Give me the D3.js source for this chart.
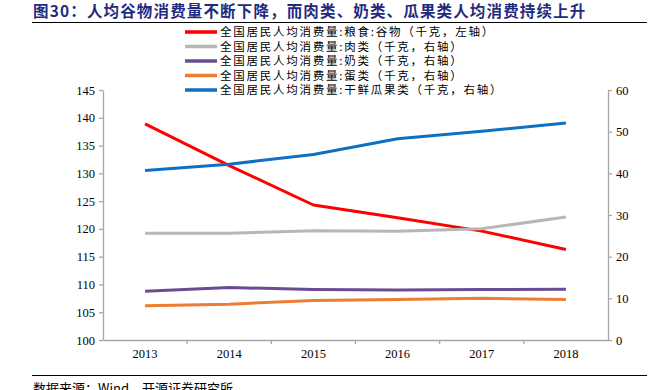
<!DOCTYPE html>
<html>
<head>
<meta charset="utf-8">
<script src="https://cdn.jsdelivr.net/npm/d3@7"></script>
<style>
  body { margin: 0; background: #fff; }
  svg { display: block; text-spacing-trim: space-all; }
  .tick text { font-family: "Liberation Serif", "Times New Roman", serif; font-size: 12.5px; fill: #000; }
</style>
</head>
<body>
<div id="chart"></div>
<script>
//////////////////////////// data /////////////////////////////////////////

const years = ["2013", "2014", "2015", "2016", "2017", "2018"];

const grain = [138.9, 131.4, 124.3, 122.0, 119.6, 116.3]; // left axis
const meat = [25.6, 25.6, 26.2, 26.1, 26.7, 29.5];
const milk = [11.7, 12.6, 12.1, 12.0, 12.1, 12.2];
const eggs = [8.2, 8.6, 9.5, 9.7, 10.0, 9.7];
const fruit = [40.7, 42.2, 44.5, 48.3, 50.1, 52.1];

const leftTicks = [100, 105, 110, 115, 120, 125, 130, 135, 140, 145];
const rightTicks = [0, 10, 20, 30, 40, 50, 60];

const series = [
  { name: "全国居民人均消费量:粮食:谷物（千克，左轴）", values: grain, axis: "left", color: "#ff0000" },
  { name: "全国居民人均消费量:肉类（千克，右轴）", values: meat, axis: "right", color: "#b7b7b7" },
  { name: "全国居民人均消费量:奶类（千克，右轴）", values: milk, axis: "right", color: "#6a4c93" },
  { name: "全国居民人均消费量:蛋类（千克，右轴）", values: eggs, axis: "right", color: "#ed7d31" },
  { name: "全国居民人均消费量:干鲜瓜果类（千克，右轴）", values: fruit, axis: "right", color: "#0f6fc0" }
];

const title = "图30：人均谷物消费量不断下降，而肉类、奶类、瓜果类人均消费持续上升";
const source = "数据来源：Wind，开源证券研究所";

//////////////////////////// svg ///////////////////////////////////

const width = 670;
const height = 390;
const margin = { top: 90, right: 62, bottom: 50, left: 103 };
const innerW = width - margin.left - margin.right;
const innerH = height - margin.top - margin.bottom;

const cjk = '"Noto Sans CJK SC", "Noto Sans", sans-serif';
const axisColor = "#a6a6a6";

const svg = d3.select("#chart").append("svg")
  .attr("width", width)
  .attr("height", height);

// title + rules
svg.append("text")
  .attr("x", 33)
  .attr("y", 17)
  .attr("font-family", cjk)
  .attr("font-weight", "bold")
  .attr("font-size", 15.5)
  .attr("letter-spacing", 1.15)
  .attr("fill", "#1f2a80")
  .text(title);

svg.append("line")
  .attr("x1", 32).attr("x2", 647)
  .attr("y1", 22.5).attr("y2", 22.5)
  .attr("stroke", "#000").attr("stroke-width", 1);

svg.append("line")
  .attr("x1", 32).attr("x2", 647)
  .attr("y1", 375.5).attr("y2", 375.5)
  .attr("stroke", "#000").attr("stroke-width", 1);

svg.append("text")
  .attr("x", 33)
  .attr("y", 393)
  .attr("font-family", cjk)
  .attr("font-size", 13)
  .attr("fill", "#000")
  .text(source);

const bounds = svg.append("g")
  .attr("transform", `translate(${margin.left},${margin.top})`);

//////////////////////////// scales ///////////////////////////////////////

const xScale = d3.scaleBand().domain(years).range([0, innerW]);
const xMid = (d) => xScale(d) + xScale.bandwidth() / 2;

const yLeft = d3.scaleLinear().domain([100, 145]).range([innerH, 0]);
const yRight = d3.scaleLinear().domain([0, 60]).range([innerH, 0]);

//////////////////////////// axes /////////////////////////////////////////

const styleAxis = (g) => {
  g.selectAll(".domain").attr("stroke", axisColor).attr("stroke-width", 1.3);
  g.selectAll(".tick line").attr("stroke", axisColor).attr("stroke-width", 1.3);
};

const xAxis = bounds.append("g")
  .attr("transform", `translate(0,${innerH})`)
  .call(d3.axisBottom(xScale).tickSize(0).tickSizeOuter(0).tickPadding(9))
  .call(styleAxis);

// ticks at band boundaries
xAxis.selectAll(".sep")
  .data(years.slice(1))
  .join("line")
  .attr("class", "sep")
  .attr("x1", (d) => xScale(d)).attr("x2", (d) => xScale(d))
  .attr("y1", 0).attr("y2", 4)
  .attr("stroke", axisColor).attr("stroke-width", 1.3);

bounds.append("g")
  .call(d3.axisLeft(yLeft).tickValues(leftTicks).tickSize(4).tickSizeOuter(0).tickPadding(4))
  .call(styleAxis);

bounds.append("g")
  .attr("transform", `translate(${innerW},0)`)
  .call(d3.axisRight(yRight).tickValues(rightTicks).tickSize(4).tickSizeOuter(0).tickPadding(4))
  .call(styleAxis);

//////////////////////////// lines ////////////////////////////////////////

series.forEach((s) => {
  const y = s.axis === "left" ? yLeft : yRight;
  const line = d3.line()
    .x((d, i) => xMid(years[i]))
    .y((d) => y(d));
  bounds.append("path")
    .datum(s.values)
    .attr("d", line)
    .attr("fill", "none")
    .attr("stroke", s.color)
    .attr("stroke-width", 3)
    .attr("stroke-linejoin", "round");
});

//////////////////////////// legend ///////////////////////////////////////

const legend = svg.append("g").attr("transform", "translate(185,32)");

const rows = legend.selectAll("g")
  .data(series)
  .join("g")
  .attr("transform", (d, i) => `translate(0,${i * 14.5})`);

rows.append("line")
  .attr("x1", 0).attr("x2", 32)
  .attr("stroke", (d) => d.color)
  .attr("stroke-width", 3.5);

rows.append("text")
  .attr("x", 35)
  .attr("y", 4.2)
  .attr("font-family", cjk)
  .attr("font-size", 11.5)
  .attr("letter-spacing", 1.75)
  .attr("fill", "#000")
  .text((d) => d.name);
</script>
</body>
</html>
